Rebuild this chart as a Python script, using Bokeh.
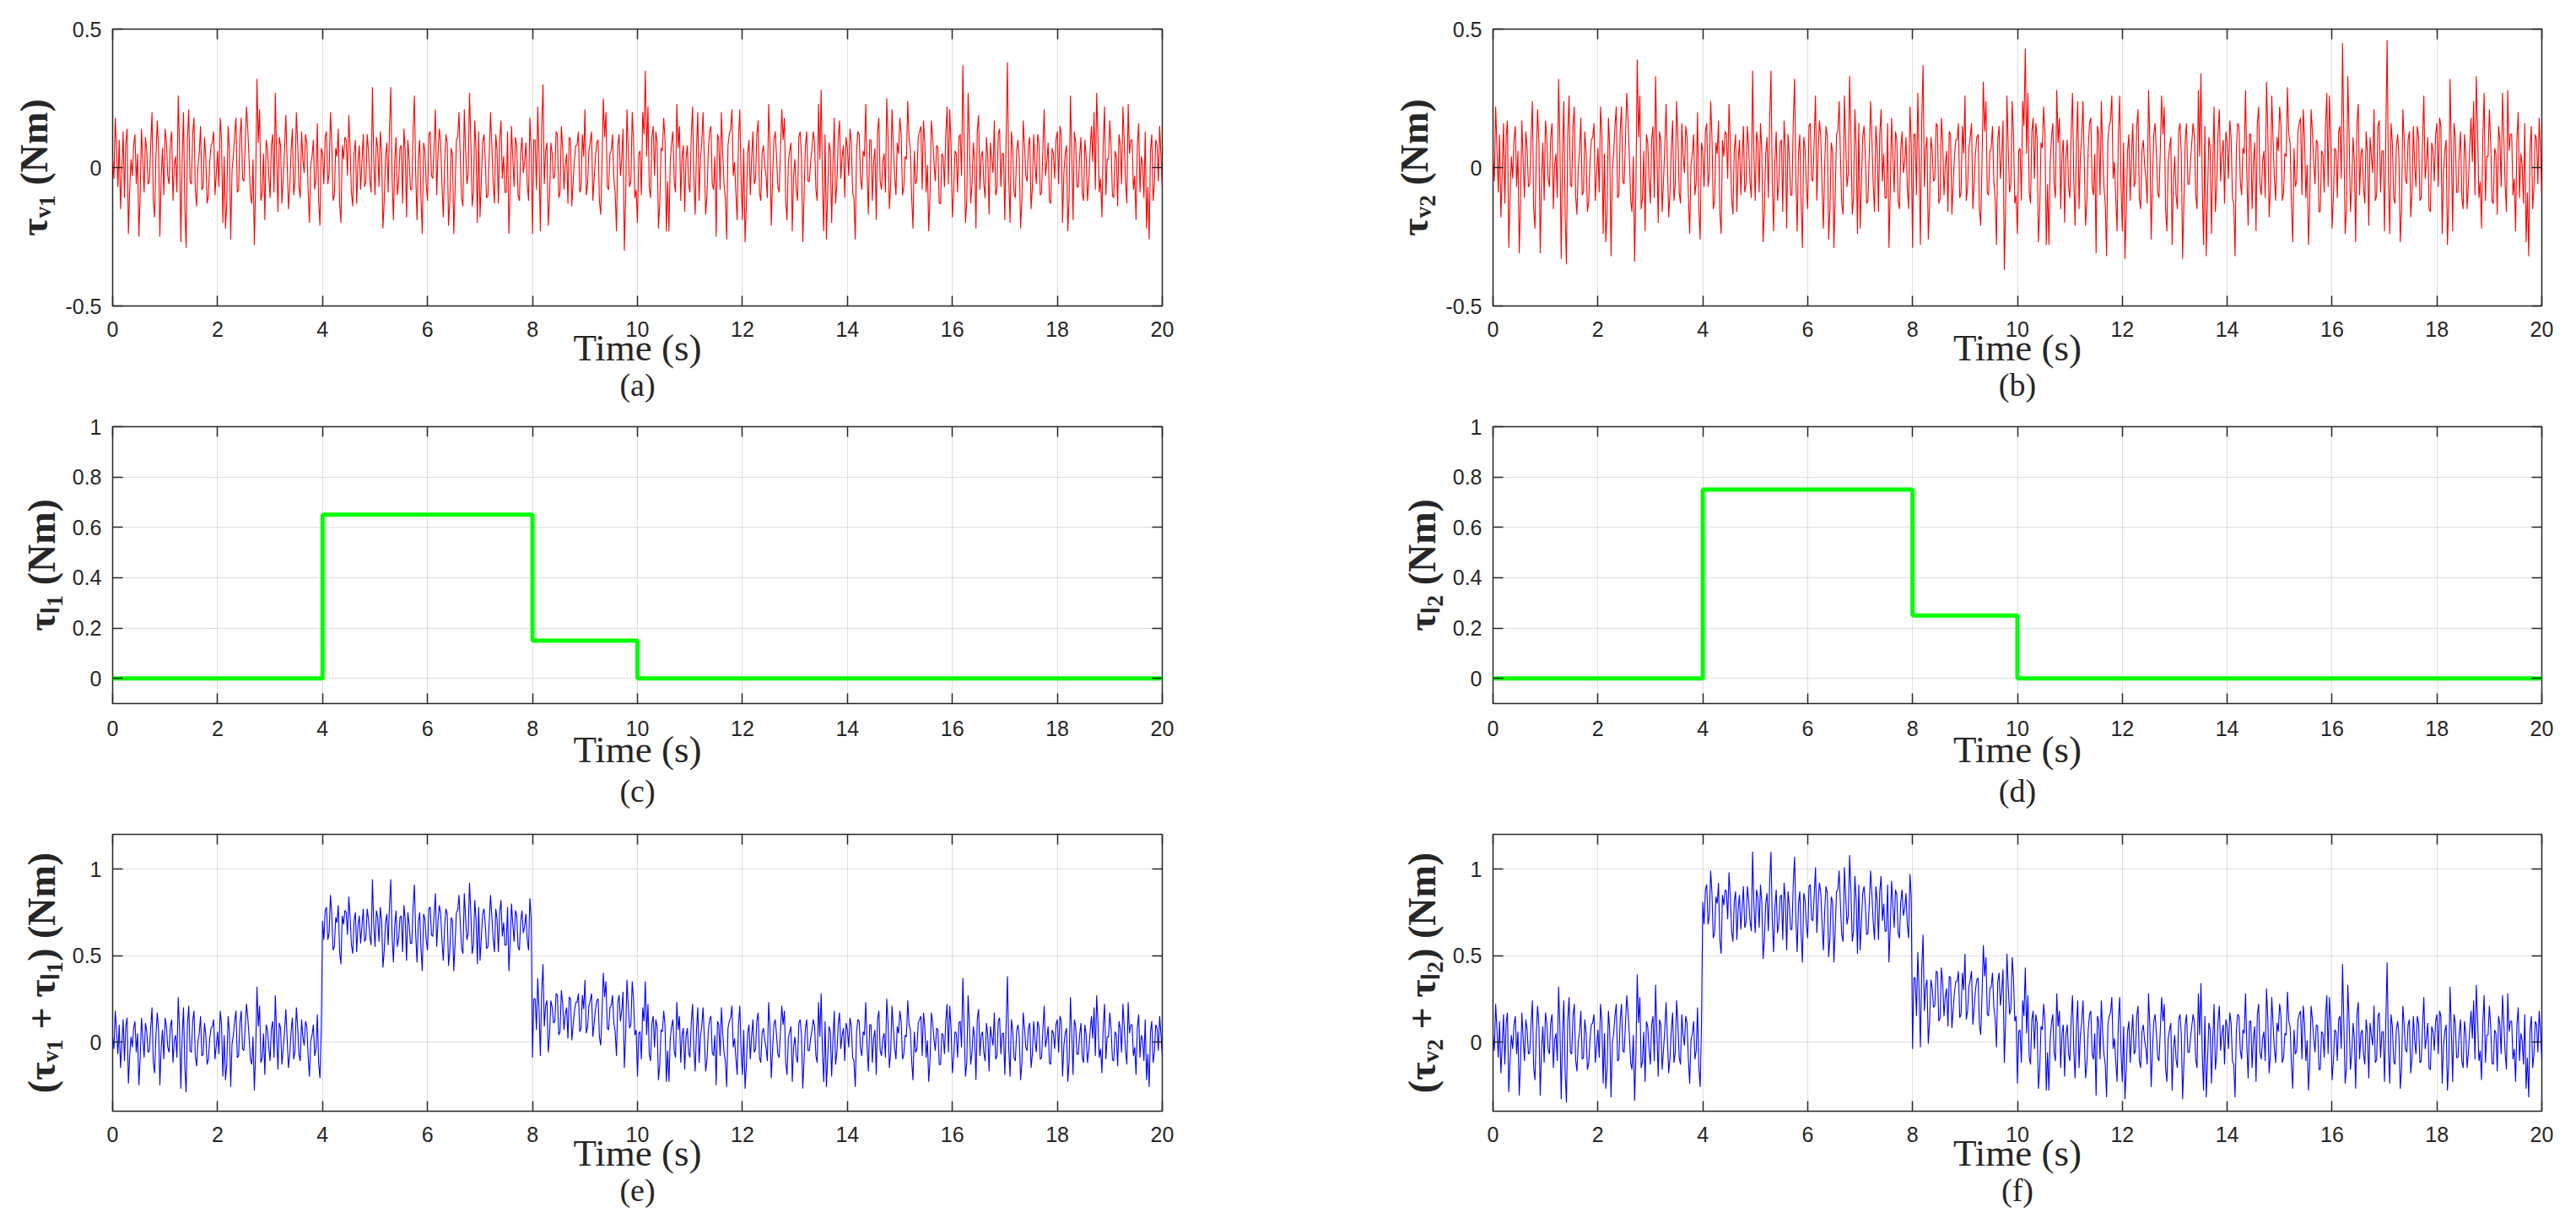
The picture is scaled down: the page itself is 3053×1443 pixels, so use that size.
import numpy as np
from bokeh.plotting import figure
from bokeh.layouts import row, column
from bokeh.models import LinearAxis, FixedTicker, PrintfTickFormatter, Range1d, CustomJSTickFormatter
from bokeh.embed import file_html
from bokeh.resources import INLINE

# ---------------- data ----------------
SAMPLE_DT = 0.05  # s between the on-grid samples; a "mid" sample sits halfway between

# tau_v1 noise on the grid t = 0, 0.05, ..., 20 s  (hundredths of Nm)
tau_v1_cNm = [
    3, 18, -7, -15, 13, 9, -24, 3, 8, -6, -25, 14, -9, 6, -5, 20, -18, 17, -25, 7,
    14, -3, 9, -12, 4, 26, -27, 20, -29, 21, -6, 18, -14, 5, -8, 11, -13, 2, 9, -10,
    6, 18, -20, -22, 15, -26, 4, 18, -8, 18, -5, 22, 3, -13, -28, 32, 21, -9, -19, 7,
    -11, 12, 27, -16, 8, -4, 19, -15, 6, -10, 20, -7, 13, -2, 9, -20, 4, -8, 16, -21,
    5, 11, -6, 20, -12, 7, 14, -20, 3, 10, 19, -9, 5, -13, 8, 2, -7, 12, -4, 29,
    -10, 7, 13, -22, 4, -9, 29, -19, 11, -5, 8, 14, -18, 3, -8, 26, -19, 10, -24, 6,
    -12, 13, -4, 21, 5, 9, -18, 12, -21, 7, -24, 10, 20, -11, 21, -6, 27, -14, 17, -20,
    -18, 9, 3, -10, 20, -5, 12, -13, 17, 4, -9, -24, 15, -7, 8, -12, 11, 2, -6, 18,
    -24, 10, 22, -23, 30, 6, -21, 9, -4, 13, -11, 15, -8, 5, 11, -14, 3, 8, -9, 12,
    21, -6, 9, -12, 4, 10, -17, 25, 20, -8, 6, -4, -23, 12, 3, -30, 21, -7, 20, -11,
    -20, 6, 20, 35, 22, -11, 15, 13, -22, 7, 18, -23, -23, 9, -5, 23, 15, 4, -16, 8,
    -9, 22, -17, 20, 3, 20, -17, 6, 15, -8, -25, 10, 20, -6, -26, 12, 21, 2, -19, 21,
    -19, -27, 5, -10, 13, -4, 17, -12, 8, -3, 23, -21, 10, 4, -9, 21, 18, -19, 6, -23,
    3, -12, 13, -27, 8, -5, 2, 13, -8, 23, 28, -23, -26, 9, -20, 18, -6, 17, 4, -11,
    7, 14, -9, -26, 13, -4, 6, 23, -17, 10, 2, -19, 18, -8, 5, 25, -15, 21, -3, 9,
    18, -10, 4, 24, 7, -22, -6, 11, 15, 17, -9, -23, 17, 2, 8, -13, 5, -7, 22, 21,
    -18, 6, -9, 12, 37, -20, 27, -13, 9, -22, 19, 4, -6, 11, -17, 3, 17, -8, 14, 5,
    -19, 38, -20, 7, -11, 10, -22, 17, -3, 8, -15, 12, -6, 9, -9, 21, 2, -12, 7, -4,
    13, 15, -20, 5, -23, 26, -19, 9, -7, 11, -12, 4, -5, 15, 20, 27, -9, -18, 22, 3,
    17, -10, 6, -14, 8, 22, -5, 23, 10, -8, -19, 16, 4, -11, -22, -26, 12, -6, 8, 15,
    -8,
]
# tau_v1 noise at the mid points t = 0.025, 0.075, ..., 19.975 s
tau_v1_mid_cNm = [
    -4, 6, 10, -2, -11, 14, -8, -3, 12, 5, -9, 2, 11, -6, 8, -12, 4, 7, -3, -10,
    9, -6, 13, 1, -9, 7, 3, -14, 10, -5, 12, -8, 0, 15, -7, 4, -10, 8, 13, -2,
    -7, 10, 4, -13, 6, -1, 12, -9, 11, -4, 8, 14, -10, 3, -6, 9, -12, 5, 10, -3,
    8, -9, 4, 11, -13, 6, 2, -7, 14, -5, 9, -11, 3, 12, -8, 1, 10, -4, -12, 7,
    -6, 13, -2, 9, -10, 4, -13, 8, 11, -3, 7, -14, 10, 2, -8, 12, -5, 6, -9, 3,
    11, -7, 5, -12, 9, 14, -4, 2, -10, 7, -13, 6, 10, -8, 13, -3, 4, -11, 9, -6,
    12, -3, 8, -10, 14, -6, 1, 9, -12, 5, -8, 11, 3, -14, 7, -2, 10, -9, 6, 13,
    -5, 12, -11, 4, 8, -13, 6, 10, -4, -9, 13, -7, 3, 11, -10, 5, -2, 9, -12, 7,
    10, -8, 3, 14, -6, 9, -11, 5, -3, 12, -9, 7, 1, -13, 10, -5, 8, 13, -7, 4,
    -10, 6, 13, -4, 9, -12, 2, 11, -7, 5, 12, -9, 8, -3, 14, -11, 6, -5, 10, -8,
    5, -10, 12, 4, -7, 11, -3, 9, -13, 6, 10, -5, 2, 13, -9, 7, -12, 8, 3, -6,
    11, -4, 7, -12, 9, 2, -10, 13, -6, 4, 12, -8, 5, -11, 8, 14, -3, -9, 10, -5,
    7, -13, 10, 3, -6, 12, -9, 5, 1, -11, 8, -4, 13, -7, 6, 10, -12, 2, 9, -3,
    -8, 11, 4, -10, 13, -5, 7, 9, -12, 3, -6, 12, -9, 6, 1, -13, 10, -4, 8, 11,
    -3, 9, -11, 6, 12, -8, 4, -2, 10, -12, 7, 13, -5, 2, -9, 11, -6, 8, -10, 5,
    12, -7, 3, 10, -11, 6, -4, 13, -8, 9, 1, -10, 11, -5, 7, -13, 4, 12, -6, 8,
    -9, 5, 11, -3, 8, -12, 10, -6, 2, 13, -8, 6, -11, 4, 9, -2, -10, 12, -7, 5,
    10, -4, 13, -9, 6, 3, -12, 8, -5, 11, -7, 1, 12, -10, 7, -3, 9, -13, 5, 10,
    -6, 12, -2, 8, -11, 5, 13, -7, 4, -9, 10, -12, 6, 2, -8, 11, -4, 9, -10, 3,
    7, -11, 4, 12, -6, 9, -13, 5, 10, -3, 8, -9, 1, 13, -7, 6, -12, 10, -5, 4,
]

# tau_v2 noise on the grid (hundredths of Nm)
tau_v2_cNm = [
    4, 22, -9, -18, 16, 11, -29, 4, 10, -7, -31, 17, -11, 7, -6, 24, -22, 21, -31, 9,
    17, -4, 11, -15, 5, 32, -33, 24, -35, 26, -7, 22, -17, 6, -10, 13, -16, 2, 11, -12,
    7, 22, -24, -27, 18, -32, 5, 22, -10, 22, -6, 27, 4, -16, -34, 39, 26, -11, -23, 9,
    -13, 15, 33, -20, 10, -5, 23, -18, 7, -12, 24, -9, 16, -2, 11, -24, 5, -10, 20, -26,
    6, 13, -7, 24, -15, 9, 17, -24, 4, 12, 23, -11, 6, -16, 10, 2, -9, 15, -5, 35,
    -12, 9, 16, -27, 5, -11, 35, -23, 13, -6, 10, 17, -22, 4, -10, 32, -23, 12, -29, 7,
    -15, 16, -5, 26, 6, 11, -22, 15, -26, 9, -29, 12, 24, -13, 26, -7, 33, -17, 21, -24,
    -22, 11, 4, -12, 24, -6, 15, -16, 21, 5, -11, -29, 18, -9, 10, -15, 13, 2, -7, 22,
    -29, 12, 27, -28, 37, 7, -26, 11, -5, 16, -13, 18, -10, 6, 13, -17, 4, 10, -11, 15,
    26, -7, 11, -15, 5, 12, -21, 31, 24, -10, 7, -5, -28, 15, 4, -37, 26, -9, 24, -13,
    -24, 7, 24, 43, 27, -13, 18, 16, -27, 9, 22, -28, -28, 11, -6, 28, 18, 5, -20, 10,
    -11, 27, -21, 24, 4, 24, -21, 7, 18, -10, -31, 12, 24, -7, -32, 15, 26, 2, -23, 26,
    -23, -33, 6, -12, 16, -5, 21, -15, 10, -4, 28, -26, 12, 5, -11, 26, 22, -23, 7, -28,
    4, -15, 16, -33, 10, -6, 2, 16, -10, 28, 34, -28, -32, 11, -24, 22, -7, 21, 5, -13,
    9, 17, -11, -32, 16, -5, 7, 28, -21, 12, 2, -23, 22, -10, 6, 31, -18, 26, -4, 11,
    22, -12, 5, 29, 9, -27, -7, 13, 18, 21, -11, -28, 21, 2, 10, -16, 6, -9, 27, 26,
    -22, 7, -11, 15, 45, -24, 33, -16, 11, -27, 23, 5, -7, 13, -21, 4, 21, -10, 17, 6,
    -23, 46, -24, 9, -13, 12, -27, 21, -4, 10, -18, 15, -7, 11, -11, 26, 2, -15, 9, -5,
    16, 18, -24, 6, -28, 32, -23, 11, -9, 13, -15, 5, -6, 18, 24, 33, -11, -22, 27, 4,
    21, -12, 7, -17, 10, 27, -6, 28, 12, -10, -23, 20, 5, -13, -27, -32, 15, -7, 10, 18,
    -10,
]
# tau_v2 noise at the mid points
tau_v2_mid_cNm = [
    -5, 7, 12, -2, -13, 17, -10, -4, 15, 6, -11, 2, 13, -7, 10, -15, 5, 9, -4, -12,
    11, -7, 16, 1, -11, 9, 4, -17, 12, -6, 15, -10, 0, 18, -9, 5, -12, 10, 16, -2,
    -9, 12, 5, -16, 7, -1, 15, -11, 13, -5, 10, 17, -12, 4, -7, 11, -15, 6, 12, -4,
    10, -11, 5, 13, -16, 7, 2, -9, 17, -6, 11, -13, 4, 15, -10, 1, 12, -5, -15, 9,
    -7, 16, -2, 11, -12, 5, -16, 10, 13, -4, 9, -17, 12, 2, -10, 15, -6, 7, -11, 4,
    13, -9, 6, -15, 11, 17, -5, 2, -12, 9, -16, 7, 12, -10, 16, -4, 5, -13, 11, -7,
    15, -4, 10, -12, 17, -7, 1, 11, -15, 6, -10, 13, 4, -17, 9, -2, 12, -11, 7, 16,
    -6, 15, -13, 5, 10, -16, 7, 12, -5, -11, 16, -9, 4, 13, -12, 6, -2, 11, -15, 9,
    12, -10, 4, 17, -7, 11, -13, 6, -4, 15, -11, 9, 1, -16, 12, -6, 10, 16, -9, 5,
    -12, 7, 16, -5, 11, -15, 2, 13, -9, 6, 15, -11, 10, -4, 17, -13, 7, -6, 12, -10,
    6, -12, 15, 5, -9, 13, -4, 11, -16, 7, 12, -6, 2, 16, -11, 9, -15, 10, 4, -7,
    13, -5, 9, -15, 11, 2, -12, 16, -7, 5, 15, -10, 6, -13, 10, 17, -4, -11, 12, -6,
    9, -16, 12, 4, -7, 15, -11, 6, 1, -13, 10, -5, 16, -9, 7, 12, -15, 2, 11, -4,
    -10, 13, 5, -12, 16, -6, 9, 11, -15, 4, -7, 15, -11, 7, 1, -16, 12, -5, 10, 13,
    -4, 11, -13, 7, 15, -10, 5, -2, 12, -15, 9, 16, -6, 2, -11, 13, -7, 10, -12, 6,
    15, -9, 4, 12, -13, 7, -5, 16, -10, 11, 1, -12, 13, -6, 9, -16, 5, 15, -7, 10,
    -11, 6, 13, -4, 10, -15, 12, -7, 2, 16, -10, 7, -13, 5, 11, -2, -12, 15, -9, 6,
    12, -5, 16, -11, 7, 4, -15, 10, -6, 13, -9, 1, 15, -12, 9, -4, 11, -16, 6, 12,
    -7, 15, -2, 10, -13, 6, 16, -9, 5, -11, 12, -15, 7, 2, -10, 13, -5, 11, -12, 4,
    9, -13, 5, 15, -7, 11, -16, 6, 12, -4, 10, -11, 1, 16, -9, 7, -15, 12, -6, 5,
]

load_change_times = [4, 8, 10]          # s
tau_l1_levels = [0.0, 0.65, 0.15, 0.0]  # Nm
tau_l2_levels = [0.0, 0.75, 0.25, 0.0]  # Nm

time_span = [0, 20]
x_ticks = [0, 2, 4, 6, 8, 10, 12, 14, 16, 18, 20]
y_ticks_noise = [-0.5, 0, 0.5]
y_ticks_load = [0, 0.2, 0.4, 0.6, 0.8, 1]
y_ticks_total = [0, 0.5, 1]
y_range_noise = [-0.5, 0.5]
y_range_load = [-0.1, 1.0]
y_range_total = [-0.4, 1.2]

x_label = "Time (s)"
panel_tags = ["(a)", "(b)", "(c)", "(d)", "(e)", "(f)"]
y_labels = ["τᵥ₁ (Nm)", "τᵥ₂ (Nm)", "τₗ₁ (Nm)", "τₗ₂ (Nm)",
            "(τᵥ₁ + τₗ₁) (Nm)", "(τᵥ₂ + τₗ₂) (Nm)"]

# ---------------- derived series ----------------
def interleave(grid_vals, mid_vals):
    n = len(grid_vals)
    tt = np.empty(2 * n - 1)
    vv = np.empty(2 * n - 1)
    tt[0::2] = np.arange(n) * SAMPLE_DT
    tt[1::2] = np.arange(n - 1) * SAMPLE_DT + SAMPLE_DT / 2
    vv[0::2] = np.array(grid_vals) / 100.0
    vv[1::2] = np.array(mid_vals) / 100.0
    return tt, vv


t, v1 = interleave(tau_v1_cNm, tau_v1_mid_cNm)
_, v2 = interleave(tau_v2_cNm, tau_v2_mid_cNm)


def step_line(levels):
    xs, ys = [time_span[0]], [levels[0]]
    for tc, a, b in zip(load_change_times, levels[:-1], levels[1:]):
        xs += [tc, tc]
        ys += [a, b]
    xs.append(time_span[1])
    ys.append(levels[-1])
    return xs, ys


def step_at(levels, tt):
    idx = np.searchsorted(load_change_times, tt, side="right")
    return np.array(levels)[idx]


l1x, l1y = step_line(tau_l1_levels)
l2x, l2y = step_line(tau_l2_levels)
e_sum = v1 + step_at(tau_l1_levels, t)
f_sum = v2 + step_at(tau_l2_levels, t)

# ---------------- styling / layout ----------------
INK = "#262626"
FRAME_H = 328
ROW_TOP = [34, 26, 26]
ROW_BOTTOM = [116, 129, 110]
TICK_STANDOFF = [18, 20, 18]
LABEL_STANDOFF = [-15, -12, -15]
TAG_STANDOFF = [-5, 0, -5]


def make_panel(xs, ys, color, lw, yr, yt, ylabel, tag, left_col, r):
    if left_col:
        mbl, fw, mbr = 133, 1244, 131
    else:
        mbl, fw, mbr = 261, 1243, 30
    p = figure(frame_width=fw, frame_height=FRAME_H,
               min_border_left=mbl, min_border_right=mbr,
               min_border_top=ROW_TOP[r], min_border_bottom=ROW_BOTTOM[r],
               x_range=Range1d(*time_span), y_range=Range1d(*yr),
               output_backend="svg", toolbar_location=None,
               background_fill_color="white", border_fill_color="white")
    p.outline_line_color = INK
    p.outline_line_width = 1.5
    p.outline_line_alpha = 1.0

    p.line(xs, ys, line_color=color, line_width=lw)

    xa = p.xaxis[0]
    ya = p.yaxis[0]
    xa.ticker = FixedTicker(ticks=x_ticks)
    ya.ticker = FixedTicker(ticks=yt)
    p.xgrid.ticker = FixedTicker(ticks=x_ticks)
    p.ygrid.ticker = FixedTicker(ticks=yt)
    for g in (p.xgrid, p.ygrid):
        g.grid_line_color = INK
        g.grid_line_alpha = 0.15
        g.grid_line_width = 1

    for ax in (xa, ya):
        ax.formatter = PrintfTickFormatter(format="%g")
        ax.axis_line_color = None
        ax.major_tick_in = 12
        ax.major_tick_out = 0
        ax.major_tick_line_color = INK
        ax.major_tick_line_width = 1.5
        ax.minor_tick_line_color = None
        ax.major_label_text_font = "Liberation Sans"
        ax.major_label_text_font_size = "25px"
        ax.major_label_text_color = INK
        ax.axis_label_text_font = "Liberation Serif"
        ax.axis_label_text_color = INK

    xa.major_label_standoff = TICK_STANDOFF[r]
    xa.axis_label = x_label
    xa.axis_label_text_font_size = "45px"
    xa.axis_label_text_font_style = "normal"
    xa.axis_label_standoff = LABEL_STANDOFF[r]

    ya.major_label_standoff = 13
    ya.axis_label = ylabel
    ya.axis_label_text_font_size = "46px"
    ya.axis_label_text_font_style = "bold"
    ya.axis_label_standoff = 8

    # box ticks on top and right
    for side, ticks in (("above", x_ticks), ("right", yt)):
        bx = LinearAxis(ticker=FixedTicker(ticks=ticks),
                        formatter=CustomJSTickFormatter(code="return ''"),
                        major_label_text_font_size="0px", major_label_standoff=0,
                        major_tick_in=12, major_tick_out=0,
                        major_tick_line_color=INK, major_tick_line_width=1.5,
                        minor_tick_line_color=None, axis_line_color=None)
        p.add_layout(bx, side)

    # sub-figure tag under the x label
    tg = LinearAxis(ticker=FixedTicker(ticks=[]), axis_label=tag,
                    axis_label_text_font="Liberation Serif",
                    axis_label_text_font_size="38px",
                    axis_label_text_font_style="normal",
                    axis_label_text_color=INK,
                    axis_label_standoff=TAG_STANDOFF[r],
                    major_label_standoff=0, major_tick_in=0, major_tick_out=0,
                    axis_line_color=None, major_tick_line_color=None,
                    minor_tick_line_color=None)
    p.add_layout(tg, "below")
    return p


RED, GREEN, BLUE = "#ff0000", "#00ff00", "#0000ff"
pa = make_panel(t, v1, RED, 1.1, y_range_noise, y_ticks_noise, y_labels[0], panel_tags[0], True, 0)
pb = make_panel(t, v2, RED, 1.1, y_range_noise, y_ticks_noise, y_labels[1], panel_tags[1], False, 0)
pc = make_panel(l1x, l1y, GREEN, 5, y_range_load, y_ticks_load, y_labels[2], panel_tags[2], True, 1)
pd = make_panel(l2x, l2y, GREEN, 5, y_range_load, y_ticks_load, y_labels[3], panel_tags[3], False, 1)
pe = make_panel(t, e_sum, BLUE, 1.1, y_range_total, y_ticks_total, y_labels[4], panel_tags[4], True, 2)
pf = make_panel(t, f_sum, BLUE, 1.1, y_range_total, y_ticks_total, y_labels[5], panel_tags[5], False, 2)

layout = column(row(pa, pb), row(pc, pd), row(pe, pf))

open("out.html", "w").write(file_html(layout, INLINE, title="Torque signals"))
